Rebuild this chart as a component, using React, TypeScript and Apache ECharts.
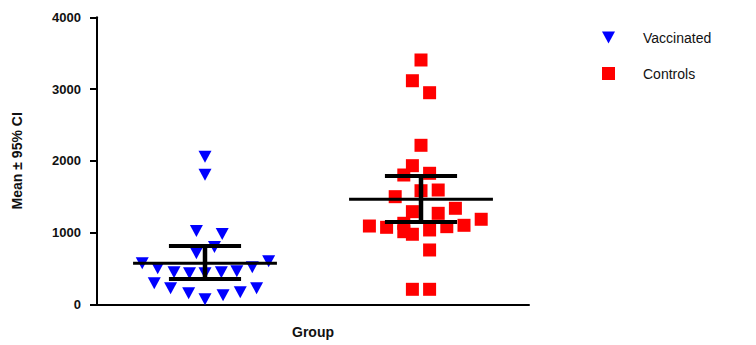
import React, { useEffect, useRef } from 'react';
import * as echarts from 'echarts';

const categories = ['Vaccinated', 'Controls'];
const yTicks = [0, 1000, 2000, 3000, 4000];

const vaccinatedValues = [2056, 1804, 1021, 979, 797, 713, 571, 601, 503, 517, 448, 433, 433, 448, 462, 294, 224, 154, 70, 126, 168, 224];
const vaccinatedSwarm = [0, 0, -1, 2, 1.1, -1, -7.3, 7.4, -5.5, 5.5, -3.6, -1.8, 0, 1.9, 3.7, -5.9, -4, -1.9, 0, 2.1, 4.1, 6];

const controlsValues = [3405, 3116, 2949, 2216, 1932, 1802, 1826, 1583, 1593, 1500, 1291, 1268, 1338, 1091, 1073, 1129, 1012, 976, 1036, 1082, 1101, 1185, 757, 209, 209];
const controlsSwarm = [0, -1, 1, 0, -1, -2, 1, 0, 2, -3, -1, 2, 4, -6, -4, -2, -2, -1, 1, 3, 5, 7, 1, -1, 1];

const means = [571, 1463];
const lowerCI = [353, 1147];
const upperCI = [813, 1788];

const SWARM_STEP = 8.6 / 216;
const MEAN_HALF = 0.333;
const CAP_HALF = 0.167;
const FONT = '"Liberation Sans", Arial, Helvetica, sans-serif';

export default function App() {
  const ref = useRef<HTMLDivElement>(null);
  useEffect(() => {
    document.body.style.margin = '0';
    const chart = echarts.init(ref.current!, null, { renderer: 'svg' });
    const points = (vals: number[], swarm: number[], idx: number) =>
      vals.map((v, i) => [idx + swarm[i] * SWARM_STEP, v]);
    const errData = categories.map((_, i) => [i, means[i], lowerCI[i], upperCI[i]]);

    chart.setOption({
      animation: false,
      textStyle: { fontFamily: FONT },
      grid: { left: 97, right: 227, top: 17.3, bottom: 40.7 },
      legend: {
        orient: 'vertical',
        left: 602,
        top: 30.5,
        padding: 0,
        itemWidth: 13,
        itemHeight: 13,
        itemGap: 22,
        data: [
          { name: categories[0], icon: 'path://M0,0L13,0L6.5,12Z' },
          { name: categories[1], icon: 'rect' },
        ],
        textStyle: { fontSize: 14, color: '#111', fontFamily: FONT, padding: [0, 0, 0, 23] },
      },
      xAxis: [
        {
          type: 'category',
          data: categories,
          axisLine: { lineStyle: { color: '#000', width: 2 } },
          axisTick: { alignWithLabel: true, length: 5, lineStyle: { color: '#000', width: 2 } },
          axisLabel: { show: false },
          splitLine: { show: false },
          name: 'Group',
          nameLocation: 'middle',
          nameGap: 21,
          nameTextStyle: { fontSize: 14, fontWeight: 'bold', color: '#111', fontFamily: FONT, verticalAlign: 'top' },
        },
        { type: 'value', min: -0.5, max: 1.5, show: false },
      ],
      yAxis: {
        type: 'value',
        min: yTicks[0],
        max: yTicks[yTicks.length - 1],
        interval: 1000,
        axisLine: { show: true, onZero: false, lineStyle: { color: '#000', width: 2 } },
        axisTick: { show: true, length: 7, lineStyle: { color: '#000', width: 2 } },
        axisLabel: {
          margin: 16,
          fontSize: 13,
          fontWeight: 'bold',
          color: '#111',
          fontFamily: FONT,
          formatter: (v: number) => String(v),
        },
        splitLine: { show: false },
        name: 'Mean ± 95% CI',
        nameLocation: 'middle',
        nameGap: 73,
        nameTextStyle: { fontSize: 14, fontWeight: 'bold', color: '#111', fontFamily: FONT },
      },
      series: [
        {
          name: 'Vaccinated',
          type: 'scatter',
          xAxisIndex: 1,
          symbol: 'triangle',
          symbolRotate: 180,
          symbolSize: [13, 12],
          itemStyle: { color: '#0000FF', opacity: 1 },
          data: points(vaccinatedValues, vaccinatedSwarm, 0),
          z: 2,
        },
        {
          name: 'Controls',
          type: 'scatter',
          xAxisIndex: 1,
          symbol: 'rect',
          symbolSize: 13,
          itemStyle: { color: '#FF0000', opacity: 1 },
          data: points(controlsValues, controlsSwarm, 1),
          z: 2,
        },
        {
          type: 'custom',
          xAxisIndex: 1,
          z: 5,
          silent: true,
          data: errData,
          encode: { x: 0, y: [1, 2, 3] },
          renderItem: (params: any, api: any) => {
            const x = api.value(0);
            const m = api.value(1);
            const lo = api.value(2);
            const hi = api.value(3);
            const ml = api.coord([x - MEAN_HALF, m]);
            const mr = api.coord([x + MEAN_HALF, m]);
            const hl = api.coord([x - CAP_HALF, hi]);
            const hr = api.coord([x + CAP_HALF, hi]);
            const ll = api.coord([x - CAP_HALF, lo]);
            const lr = api.coord([x + CAP_HALF, lo]);
            const top = api.coord([x, hi]);
            const bot = api.coord([x, lo]);
            const st = { stroke: '#000', lineWidth: 4 };
            return {
              type: 'group',
              children: [
                { type: 'line', shape: { x1: top[0], y1: top[1], x2: bot[0], y2: bot[1] }, style: { stroke: '#000', lineWidth: 4.5 } },
                { type: 'line', shape: { x1: hl[0], y1: hl[1], x2: hr[0], y2: hr[1] }, style: st },
                { type: 'line', shape: { x1: ll[0], y1: ll[1], x2: lr[0], y2: lr[1] }, style: st },
                { type: 'line', shape: { x1: ml[0], y1: ml[1], x2: mr[0], y2: mr[1] }, style: { stroke: '#000', lineWidth: 3 } },
              ],
            };
          },
        },
      ],
    });
    return () => chart.dispose();
  }, []);
  return <div ref={ref} style={{ width: 756, height: 345 }} />;
}
